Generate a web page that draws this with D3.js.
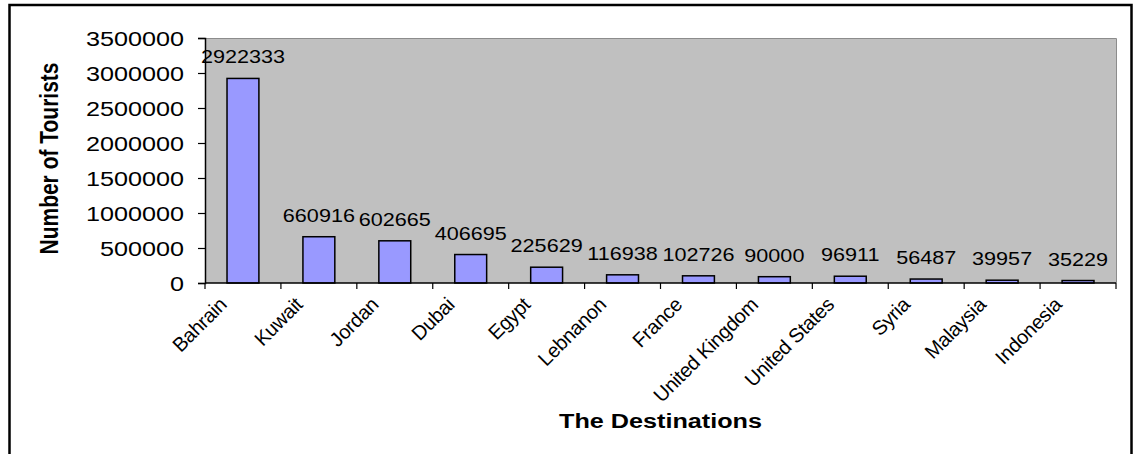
<!DOCTYPE html>
<html>
<head>
<meta charset="utf-8">
<script src="https://cdnjs.cloudflare.com/ajax/libs/d3/7.8.5/d3.min.js"></script>
<style>
  body { margin: 0; background: #fff; }
  text { font-family: Arial, "Liberation Sans", sans-serif; fill: #000; }
</style>
</head>
<body>
<script>
// Chart data.
var destinations = ["Bahrain", "Kuwait", "Jordan", "Dubai", "Egypt", "Lebnanon", "France",
                    "United Kingdom", "United States", "Syria", "Malaysia", "Indonesia"];
var tourists = [2922333, 660916, 602665, 406695, 225629, 116938, 102726, 90000, 96911, 56487, 39957, 35229];
var yTicks = [0, 500000, 1000000, 1500000, 2000000, 2500000, 3000000, 3500000];

// Layout.
var width = 1138, height = 454;
var plot = {left: 205, top: 38, right: 1116, bottom: 283};
var stretch = 1.2; // the reference text is widened horizontally

var svg = d3.select("body").append("svg")
        .attr("width", width)
        .attr("height", height);

// Outer frame.
svg.append("rect")
        .attr("x", 9.5).attr("y", 5)
        .attr("width", 1122).attr("height", 470)
        .style("fill", "none").style("stroke", "#000").style("stroke-width", 2.5);

var x = d3.scaleBand()
        .domain(destinations)
        .range([plot.left, plot.right])
        .padding(0);
var y = d3.scaleLinear()
        .domain([0, 3500000])
        .range([plot.bottom, plot.top]);

// Plot area.
svg.append("rect")
        .attr("x", plot.left).attr("y", plot.top)
        .attr("width", plot.right - plot.left).attr("height", plot.bottom - plot.top)
        .style("fill", "#c0c0c0");
svg.append("path")
        .attr("d", "M" + plot.left + "," + (plot.top + 0.5) + "H" + (plot.right + 0.5) + "V" + plot.bottom)
        .style("fill", "none").style("stroke", "#8c8c8c").style("stroke-width", 1);

// Bars.
var barW = x.bandwidth() * 0.42;
svg.selectAll("rect.bar")
        .data(tourists)
        .enter().append("rect")
        .attr("class", "bar")
        .attr("x", function(d, i) { return x(destinations[i]) + (x.bandwidth() - barW) / 2; })
        .attr("y", function(d) { return y(d); })
        .attr("width", barW)
        .attr("height", function(d) { return plot.bottom - y(d); })
        .style("fill", "#9999ff")
        .style("stroke", "#000")
        .style("stroke-width", 1.5);

// Value labels.
svg.selectAll("text.value")
        .data(tourists)
        .enter().append("text")
        .attr("class", "value")
        .attr("transform", function(d, i) {
            return "translate(" + (x(destinations[i]) + x.bandwidth() / 2) + "," + (y(d) - 15) + ") scale(" + stretch + ",1)";
        })
        .attr("text-anchor", "middle")
        .style("font-size", "18px")
        .text(function(d) { return d; });

// Y axis.
var yAxis = svg.append("g")
        .attr("transform", "translate(" + plot.left + ",0)")
        .call(d3.axisLeft(y).tickValues(yTicks).tickSize(7).tickPadding(14).tickFormat(d3.format("d")));
yAxis.select(".domain").style("stroke", "#000").style("stroke-width", 1.5);
yAxis.selectAll(".tick line").style("stroke", "#000").style("stroke-width", 1.2);
yAxis.selectAll(".tick text")
        .attr("x", null).attr("dy", null)
        .attr("transform", "translate(-21,7) scale(" + stretch + ",1)")
        .style("font-size", "21px")
        .style("font-family", "Arial, 'Liberation Sans', sans-serif");

// X axis: ticks at category boundaries.
var xAxisG = svg.append("g");
xAxisG.append("line")
        .attr("x1", plot.left).attr("x2", plot.right)
        .attr("y1", plot.bottom).attr("y2", plot.bottom)
        .style("stroke", "#000").style("stroke-width", 1.5);
var bounds = destinations.map(function(d) { return x(d); }).concat([plot.right]);
xAxisG.selectAll("line.tick")
        .data(bounds)
        .enter().append("line")
        .attr("class", "tick")
        .attr("x1", function(d) { return d; }).attr("x2", function(d) { return d; })
        .attr("y1", plot.bottom).attr("y2", plot.bottom + 6)
        .style("stroke", "#000").style("stroke-width", 1.2);

// Category labels, rotated.
svg.selectAll("text.cat")
        .data(destinations)
        .enter().append("text")
        .attr("class", "cat")
        .attr("transform", function(d) {
            return "translate(" + (x(d) + x.bandwidth() / 2 - 20) + ",301) rotate(-45)";
        })
        .attr("text-anchor", "end")
        .attr("dy", "0.35em")
        .style("font-size", "20px")
        .style("letter-spacing", "-0.3px")
        .text(function(d) { return d; });

// Axis titles.
svg.append("text")
        .attr("transform", "translate(" + ((plot.left + plot.right) / 2) + ",428) scale(" + stretch + ",1)")
        .attr("text-anchor", "middle")
        .style("font-size", "21px")
        .style("font-weight", "bold")
        .text("The Destinations");
svg.append("text")
        .attr("transform", "translate(58," + ((plot.top + plot.bottom) / 2 - 2) + ") scale(" + stretch + ",1) rotate(-90)")
        .attr("text-anchor", "middle")
        .style("font-size", "21px")
        .style("font-weight", "bold")
        .text("Number of Tourists");
</script>
</body>
</html>
